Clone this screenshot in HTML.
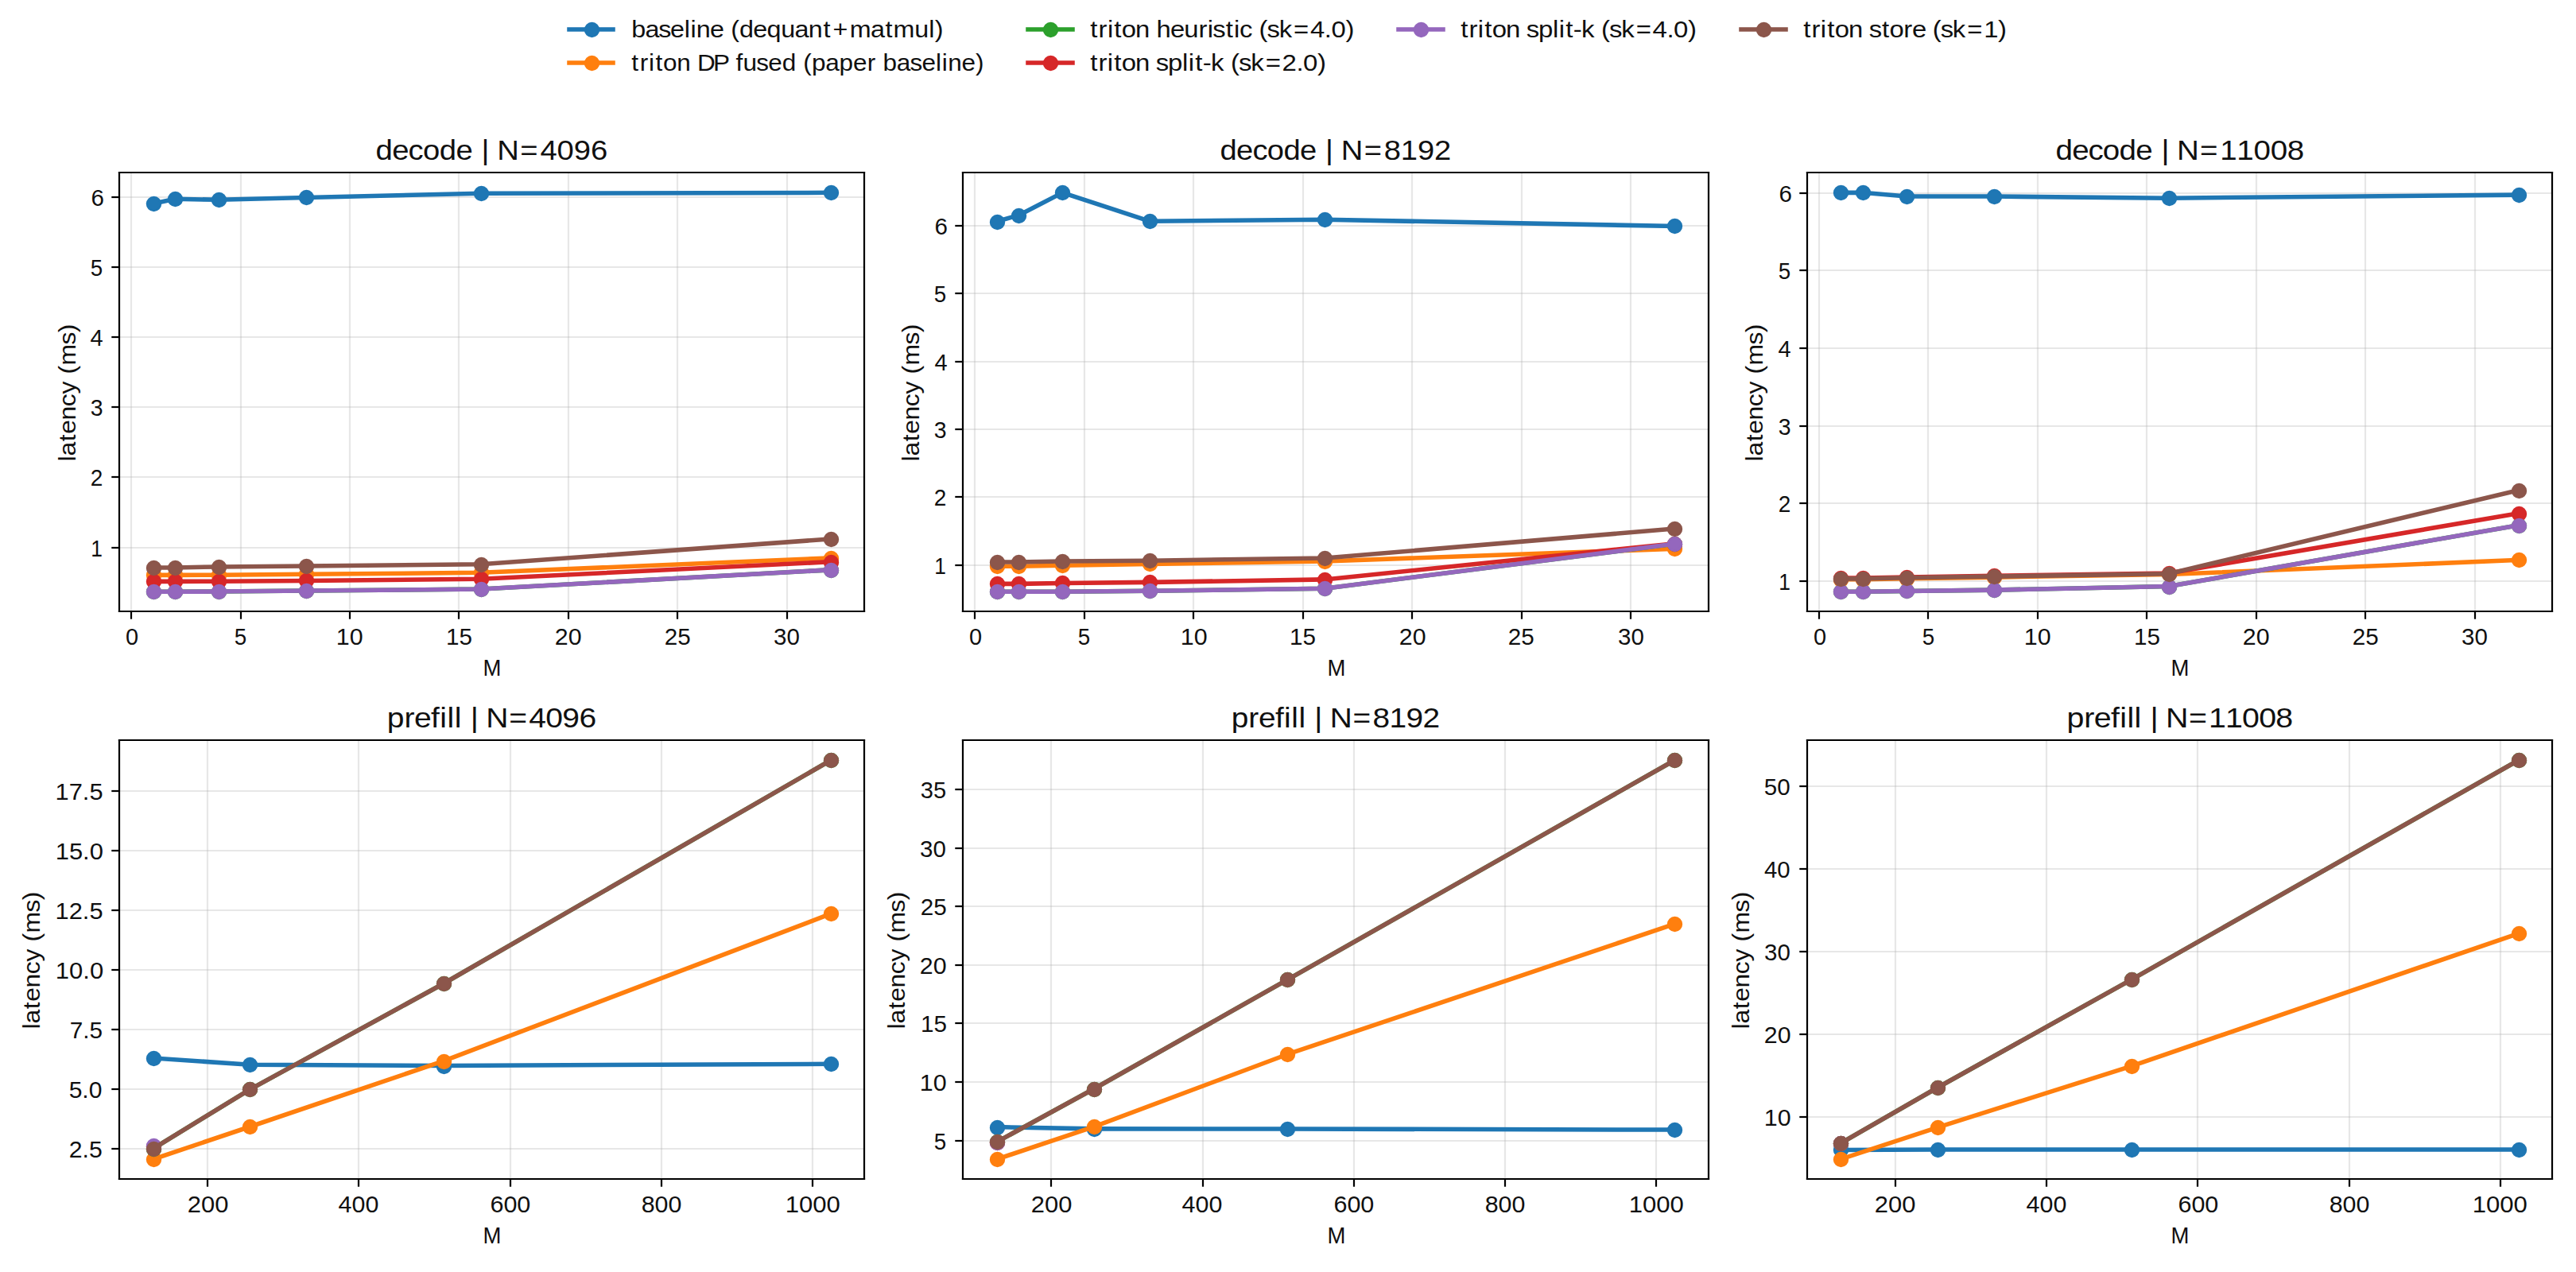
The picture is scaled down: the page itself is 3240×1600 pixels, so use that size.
<!DOCTYPE html>
<html><head><meta charset="utf-8"><title>latency plots</title>
<style>html,body{margin:0;padding:0;background:#fff;overflow:hidden}svg{display:block}text{font-family:"Liberation Sans",sans-serif;fill:#101010}</style>
</head><body>
<svg width="3240" height="1600" viewBox="0 0 3240 1600">
<defs><clipPath id="c0"><rect x="149.97" y="217.25" width="937.5" height="552.1"/></clipPath><clipPath id="c1"><rect x="1211.3" y="217.25" width="937.5" height="552.1"/></clipPath><clipPath id="c2"><rect x="2272.7" y="217.25" width="937.5" height="552.1"/></clipPath><clipPath id="c3"><rect x="149.97" y="931.3" width="937.5" height="551.9"/></clipPath><clipPath id="c4"><rect x="1211.3" y="931.3" width="937.5" height="551.9"/></clipPath><clipPath id="c5"><rect x="2272.7" y="931.3" width="937.5" height="551.9"/></clipPath></defs>
<path d="M0 1600L3240 1600L3240 0L0 0Z" fill="#ffffff"/>
<path d="M149.97 769.35L1087.47 769.35L1087.47 217.25L149.97 217.25Z" fill="#ffffff"/>
<path d="M165 769L165 217" fill="none" stroke="#b0b0b0" stroke-width="2.22" stroke-opacity="0.3" stroke-linecap="square" stroke-linejoin="round" clip-path="url(#c0)"/>
<g fill="#000000" stroke="#000000" stroke-width="2.22" stroke-linejoin="round"><path transform="translate(165 769)" d="M0 -0L0 9.72"/></g>
<text transform="matrix(1.0426 0 0 1.0628 157.91 811.00)" font-size="27.78" x="0.00">0</text>
<path d="M303 769L303 217" fill="none" stroke="#b0b0b0" stroke-width="2.22" stroke-opacity="0.3" stroke-linecap="square" stroke-linejoin="round" clip-path="url(#c0)"/>
<g fill="#000000" stroke="#000000" stroke-width="2.22" stroke-linejoin="round"><path transform="translate(303 769)" d="M0 -0L0 9.72"/></g>
<text transform="matrix(0.9989 0 0 1.0628 294.75 811.00)" font-size="27.78" x="0.00">5</text>
<path d="M440 769L440 217" fill="none" stroke="#b0b0b0" stroke-width="2.22" stroke-opacity="0.3" stroke-linecap="square" stroke-linejoin="round" clip-path="url(#c0)"/>
<g fill="#000000" stroke="#000000" stroke-width="2.22" stroke-linejoin="round"><path transform="translate(440 769)" d="M0 -0L0 9.72"/></g>
<text transform="matrix(1.0943 0 0 1.0628 422.74 811.00)" font-size="27.78" x="0.05 15.52">10</text>
<path d="M577 769L577 217" fill="none" stroke="#b0b0b0" stroke-width="2.22" stroke-opacity="0.3" stroke-linecap="square" stroke-linejoin="round" clip-path="url(#c0)"/>
<g fill="#000000" stroke="#000000" stroke-width="2.22" stroke-linejoin="round"><path transform="translate(577 769)" d="M0 -0L0 9.72"/></g>
<text transform="matrix(1.0660 0 0 1.0628 560.87 811.00)" font-size="27.78" x="0.05 15.52">15</text>
<path d="M715 769L715 217" fill="none" stroke="#b0b0b0" stroke-width="2.22" stroke-opacity="0.3" stroke-linecap="square" stroke-linejoin="round" clip-path="url(#c0)"/>
<g fill="#000000" stroke="#000000" stroke-width="2.22" stroke-linejoin="round"><path transform="translate(715 769)" d="M0 -0L0 9.72"/></g>
<text transform="matrix(1.0930 0 0 1.0628 697.76 811.00)" font-size="27.78" x="0.05 15.52">20</text>
<path d="M852 769L852 217" fill="none" stroke="#b0b0b0" stroke-width="2.22" stroke-opacity="0.3" stroke-linecap="square" stroke-linejoin="round" clip-path="url(#c0)"/>
<g fill="#000000" stroke="#000000" stroke-width="2.22" stroke-linejoin="round"><path transform="translate(852 769)" d="M0 -0L0 9.72"/></g>
<text transform="matrix(1.0670 0 0 1.0628 835.80 811.00)" font-size="27.78" x="0.05 15.52">25</text>
<path d="M990 769L990 217" fill="none" stroke="#b0b0b0" stroke-width="2.22" stroke-opacity="0.3" stroke-linecap="square" stroke-linejoin="round" clip-path="url(#c0)"/>
<g fill="#000000" stroke="#000000" stroke-width="2.22" stroke-linejoin="round"><path transform="translate(990 769)" d="M0 -0L0 9.72"/></g>
<text transform="matrix(1.0619 0 0 1.0628 972.95 811.00)" font-size="27.78" x="0.05 15.52">30</text>
<text transform="matrix(0.9892 0 0 1.0628 607.52 850.00)" font-size="27.78" x="0.00">M</text>
<path d="M150 689L1087 689" fill="none" stroke="#b0b0b0" stroke-width="2.22" stroke-opacity="0.3" stroke-linecap="square" stroke-linejoin="round" clip-path="url(#c0)"/>
<g fill="#000000" stroke="#000000" stroke-width="2.22" stroke-linejoin="round"><path transform="translate(150 689)" d="M-0 -0L-9.72 -0"/></g>
<text transform="matrix(0.9495 0 0 1.0628 114.26 700.00)" font-size="27.78" x="0.00">1</text>
<path d="M150 600L1087 600" fill="none" stroke="#b0b0b0" stroke-width="2.22" stroke-opacity="0.3" stroke-linecap="square" stroke-linejoin="round" clip-path="url(#c0)"/>
<g fill="#000000" stroke="#000000" stroke-width="2.22" stroke-linejoin="round"><path transform="translate(150 600)" d="M-0 -0L-9.72 -0"/></g>
<text transform="matrix(1.0098 0 0 1.0628 113.65 611.00)" font-size="27.78" x="0.00">2</text>
<path d="M150 512L1087 512" fill="none" stroke="#b0b0b0" stroke-width="2.22" stroke-opacity="0.3" stroke-linecap="square" stroke-linejoin="round" clip-path="url(#c0)"/>
<g fill="#000000" stroke="#000000" stroke-width="2.22" stroke-linejoin="round"><path transform="translate(150 512)" d="M-0 -0L-9.72 -0"/></g>
<text transform="matrix(1.0250 0 0 1.0628 113.86 523.00)" font-size="27.78" x="0.00">3</text>
<path d="M150 424L1087 424" fill="none" stroke="#b0b0b0" stroke-width="2.22" stroke-opacity="0.3" stroke-linecap="square" stroke-linejoin="round" clip-path="url(#c0)"/>
<g fill="#000000" stroke="#000000" stroke-width="2.22" stroke-linejoin="round"><path transform="translate(150 424)" d="M-0 -0L-9.72 -0"/></g>
<text transform="matrix(1.0444 0 0 1.0628 113.62 435.00)" font-size="27.78" x="-0.00">4</text>
<path d="M150 336L1087 336" fill="none" stroke="#b0b0b0" stroke-width="2.22" stroke-opacity="0.3" stroke-linecap="square" stroke-linejoin="round" clip-path="url(#c0)"/>
<g fill="#000000" stroke="#000000" stroke-width="2.22" stroke-linejoin="round"><path transform="translate(150 336)" d="M-0 -0L-9.72 -0"/></g>
<text transform="matrix(0.9989 0 0 1.0628 113.75 347.00)" font-size="27.78" x="0.00">5</text>
<path d="M150 248L1087 248" fill="none" stroke="#b0b0b0" stroke-width="2.22" stroke-opacity="0.3" stroke-linecap="square" stroke-linejoin="round" clip-path="url(#c0)"/>
<g fill="#000000" stroke="#000000" stroke-width="2.22" stroke-linejoin="round"><path transform="translate(150 248)" d="M-0 -0L-9.72 -0"/></g>
<text transform="matrix(1.0652 0 0 1.0628 114.42 259.00)" font-size="27.78" x="0.00">6</text>
<text transform="translate(95.00 580.86) rotate(-90) matrix(1.1460 0 0 1.0628 0 0)" font-size="27.78" x="0.25 6.34 22.39 30.69 45.76 60.81 74.56 88.65 96.39 105.99 128.63 141.89">latency (ms)</text>
<path d="M192.58 256.27L220.08 250.28L275.06 251.25L385.03 248.43L604.97 243.31L1044.86 242.35" fill="none" stroke="#1f77b4" stroke-width="5.56" stroke-linecap="square" stroke-linejoin="round" clip-path="url(#c0)"/>
<g fill="#1f77b4" stroke="#1f77b4" stroke-width="2.78" stroke-linejoin="round" clip-path="url(#c0)"><circle cx="193.5" cy="256.5" r="8.33"/><circle cx="220.5" cy="250.5" r="8.33"/><circle cx="275.5" cy="251.5" r="8.33"/><circle cx="385.5" cy="248.5" r="8.33"/><circle cx="605.5" cy="243.5" r="8.33"/><circle cx="1045.5" cy="242.5" r="8.33"/></g>
<path d="M192.58 723.37L220.08 723.37L275.06 723.19L385.03 722.31L604.97 720.28L1044.86 701.86" fill="none" stroke="#ff7f0e" stroke-width="5.56" stroke-linecap="square" stroke-linejoin="round" clip-path="url(#c0)"/>
<g fill="#ff7f0e" stroke="#ff7f0e" stroke-width="2.78" stroke-linejoin="round" clip-path="url(#c0)"><circle cx="193.5" cy="723.5" r="8.33"/><circle cx="220.5" cy="723.5" r="8.33"/><circle cx="275.5" cy="723.5" r="8.33"/><circle cx="385.5" cy="722.5" r="8.33"/><circle cx="605.5" cy="720.5" r="8.33"/><circle cx="1045.5" cy="702.5" r="8.33"/></g>
<path d="M192.58 744.25L220.08 744.25L275.06 744.08L385.03 743.02L604.97 741.08L1044.86 716.76" fill="none" stroke="#2ca02c" stroke-width="5.56" stroke-linecap="square" stroke-linejoin="round" clip-path="url(#c0)"/>
<g fill="#2ca02c" stroke="#2ca02c" stroke-width="2.78" stroke-linejoin="round" clip-path="url(#c0)"><circle cx="193.5" cy="744.5" r="8.33"/><circle cx="220.5" cy="744.5" r="8.33"/><circle cx="275.5" cy="744.5" r="8.33"/><circle cx="385.5" cy="743.5" r="8.33"/><circle cx="605.5" cy="741.5" r="8.33"/><circle cx="1045.5" cy="717.5" r="8.33"/></g>
<path d="M192.58 731.39L220.08 731.39L275.06 731.21L385.03 730.42L604.97 728.21L1044.86 706.71" fill="none" stroke="#d62728" stroke-width="5.56" stroke-linecap="square" stroke-linejoin="round" clip-path="url(#c0)"/>
<g fill="#d62728" stroke="#d62728" stroke-width="2.78" stroke-linejoin="round" clip-path="url(#c0)"><circle cx="193.5" cy="731.5" r="8.33"/><circle cx="220.5" cy="731.5" r="8.33"/><circle cx="275.5" cy="731.5" r="8.33"/><circle cx="385.5" cy="730.5" r="8.33"/><circle cx="605.5" cy="728.5" r="8.33"/><circle cx="1045.5" cy="707.5" r="8.33"/></g>
<path d="M192.58 744.25L220.08 744.25L275.06 744.08L385.03 743.02L604.97 741.08L1044.86 716.76" fill="none" stroke="#9467bd" stroke-width="5.56" stroke-linecap="square" stroke-linejoin="round" clip-path="url(#c0)"/>
<g fill="#9467bd" stroke="#9467bd" stroke-width="2.78" stroke-linejoin="round" clip-path="url(#c0)"><circle cx="193.5" cy="744.5" r="8.33"/><circle cx="220.5" cy="744.5" r="8.33"/><circle cx="275.5" cy="744.5" r="8.33"/><circle cx="385.5" cy="743.5" r="8.33"/><circle cx="605.5" cy="741.5" r="8.33"/><circle cx="1045.5" cy="717.5" r="8.33"/></g>
<path d="M192.58 713.94L220.08 713.94L275.06 712.97L385.03 712L604.97 709.8L1044.86 677.89" fill="none" stroke="#8c564b" stroke-width="5.56" stroke-linecap="square" stroke-linejoin="round" clip-path="url(#c0)"/>
<g fill="#8c564b" stroke="#8c564b" stroke-width="2.78" stroke-linejoin="round" clip-path="url(#c0)"><circle cx="193.5" cy="714.5" r="8.33"/><circle cx="220.5" cy="714.5" r="8.33"/><circle cx="275.5" cy="713.5" r="8.33"/><circle cx="385.5" cy="712.5" r="8.33"/><circle cx="605.5" cy="710.5" r="8.33"/><circle cx="1045.5" cy="678.5" r="8.33"/></g>
<path d="M150 769L150 217" fill="none" stroke="#000000" stroke-width="2.22" stroke-linecap="square"/>
<path d="M1087 769L1087 217" fill="none" stroke="#000000" stroke-width="2.22" stroke-linecap="square"/>
<path d="M150 769L1087 769" fill="none" stroke="#000000" stroke-width="2.22" stroke-linecap="square"/>
<path d="M150 217L1087 217" fill="none" stroke="#000000" stroke-width="2.22" stroke-linecap="square"/>
<text transform="matrix(1.1476 0 0 1.0611 472.44 201.00)" font-size="33.33" x="-0.03 18.07 35.86 51.81 69.90 88.01 106.16 115.92 125.14 133.16 158.46 180.34 198.79 217.24 235.69">decode | N=4096</text>
<path d="M1211.3 769.35L2148.8 769.35L2148.8 217.25L1211.3 217.25Z" fill="#ffffff"/>
<path d="M1226 769L1226 217" fill="none" stroke="#b0b0b0" stroke-width="2.22" stroke-opacity="0.3" stroke-linecap="square" stroke-linejoin="round" clip-path="url(#c1)"/>
<g fill="#000000" stroke="#000000" stroke-width="2.22" stroke-linejoin="round"><path transform="translate(1226 769)" d="M0 -0L0 9.72"/></g>
<text transform="matrix(1.0426 0 0 1.0628 1218.91 811.00)" font-size="27.78" x="0.00">0</text>
<path d="M1364 769L1364 217" fill="none" stroke="#b0b0b0" stroke-width="2.22" stroke-opacity="0.3" stroke-linecap="square" stroke-linejoin="round" clip-path="url(#c1)"/>
<g fill="#000000" stroke="#000000" stroke-width="2.22" stroke-linejoin="round"><path transform="translate(1364 769)" d="M0 -0L0 9.72"/></g>
<text transform="matrix(0.9989 0 0 1.0628 1355.75 811.00)" font-size="27.78" x="0.00">5</text>
<path d="M1501 769L1501 217" fill="none" stroke="#b0b0b0" stroke-width="2.22" stroke-opacity="0.3" stroke-linecap="square" stroke-linejoin="round" clip-path="url(#c1)"/>
<g fill="#000000" stroke="#000000" stroke-width="2.22" stroke-linejoin="round"><path transform="translate(1501 769)" d="M0 -0L0 9.72"/></g>
<text transform="matrix(1.0943 0 0 1.0628 1484.74 811.00)" font-size="27.78" x="0.05 15.52">10</text>
<path d="M1639 769L1639 217" fill="none" stroke="#b0b0b0" stroke-width="2.22" stroke-opacity="0.3" stroke-linecap="square" stroke-linejoin="round" clip-path="url(#c1)"/>
<g fill="#000000" stroke="#000000" stroke-width="2.22" stroke-linejoin="round"><path transform="translate(1639 769)" d="M0 -0L0 9.72"/></g>
<text transform="matrix(1.0660 0 0 1.0628 1621.87 811.00)" font-size="27.78" x="0.05 15.52">15</text>
<path d="M1776 769L1776 217" fill="none" stroke="#b0b0b0" stroke-width="2.22" stroke-opacity="0.3" stroke-linecap="square" stroke-linejoin="round" clip-path="url(#c1)"/>
<g fill="#000000" stroke="#000000" stroke-width="2.22" stroke-linejoin="round"><path transform="translate(1776 769)" d="M0 -0L0 9.72"/></g>
<text transform="matrix(1.0930 0 0 1.0628 1759.76 811.00)" font-size="27.78" x="0.05 15.52">20</text>
<path d="M1914 769L1914 217" fill="none" stroke="#b0b0b0" stroke-width="2.22" stroke-opacity="0.3" stroke-linecap="square" stroke-linejoin="round" clip-path="url(#c1)"/>
<g fill="#000000" stroke="#000000" stroke-width="2.22" stroke-linejoin="round"><path transform="translate(1914 769)" d="M0 -0L0 9.72"/></g>
<text transform="matrix(1.0670 0 0 1.0628 1896.80 811.00)" font-size="27.78" x="0.05 15.52">25</text>
<path d="M2051 769L2051 217" fill="none" stroke="#b0b0b0" stroke-width="2.22" stroke-opacity="0.3" stroke-linecap="square" stroke-linejoin="round" clip-path="url(#c1)"/>
<g fill="#000000" stroke="#000000" stroke-width="2.22" stroke-linejoin="round"><path transform="translate(2051 769)" d="M0 -0L0 9.72"/></g>
<text transform="matrix(1.0619 0 0 1.0628 2034.95 811.00)" font-size="27.78" x="0.05 15.52">30</text>
<text transform="matrix(0.9892 0 0 1.0628 1669.52 850.00)" font-size="27.78" x="0.00">M</text>
<path d="M1211 711L2149 711" fill="none" stroke="#b0b0b0" stroke-width="2.22" stroke-opacity="0.3" stroke-linecap="square" stroke-linejoin="round" clip-path="url(#c1)"/>
<g fill="#000000" stroke="#000000" stroke-width="2.22" stroke-linejoin="round"><path transform="translate(1211 711)" d="M-0 -0L-9.72 -0"/></g>
<text transform="matrix(0.9495 0 0 1.0628 1175.26 722.00)" font-size="27.78" x="0.00">1</text>
<path d="M1211 625L2149 625" fill="none" stroke="#b0b0b0" stroke-width="2.22" stroke-opacity="0.3" stroke-linecap="square" stroke-linejoin="round" clip-path="url(#c1)"/>
<g fill="#000000" stroke="#000000" stroke-width="2.22" stroke-linejoin="round"><path transform="translate(1211 625)" d="M-0 -0L-9.72 -0"/></g>
<text transform="matrix(1.0098 0 0 1.0628 1174.65 636.00)" font-size="27.78" x="-0.00">2</text>
<path d="M1211 540L2149 540" fill="none" stroke="#b0b0b0" stroke-width="2.22" stroke-opacity="0.3" stroke-linecap="square" stroke-linejoin="round" clip-path="url(#c1)"/>
<g fill="#000000" stroke="#000000" stroke-width="2.22" stroke-linejoin="round"><path transform="translate(1211 540)" d="M-0 -0L-9.72 -0"/></g>
<text transform="matrix(1.0250 0 0 1.0628 1174.86 551.00)" font-size="27.78" x="0.00">3</text>
<path d="M1211 455L2149 455" fill="none" stroke="#b0b0b0" stroke-width="2.22" stroke-opacity="0.3" stroke-linecap="square" stroke-linejoin="round" clip-path="url(#c1)"/>
<g fill="#000000" stroke="#000000" stroke-width="2.22" stroke-linejoin="round"><path transform="translate(1211 455)" d="M-0 -0L-9.72 -0"/></g>
<text transform="matrix(1.0444 0 0 1.0628 1175.62 466.00)" font-size="27.78" x="0.00">4</text>
<path d="M1211 369L2149 369" fill="none" stroke="#b0b0b0" stroke-width="2.22" stroke-opacity="0.3" stroke-linecap="square" stroke-linejoin="round" clip-path="url(#c1)"/>
<g fill="#000000" stroke="#000000" stroke-width="2.22" stroke-linejoin="round"><path transform="translate(1211 369)" d="M-0 -0L-9.72 -0"/></g>
<text transform="matrix(0.9989 0 0 1.0628 1174.75 380.00)" font-size="27.78" x="0.00">5</text>
<path d="M1211 284L2149 284" fill="none" stroke="#b0b0b0" stroke-width="2.22" stroke-opacity="0.3" stroke-linecap="square" stroke-linejoin="round" clip-path="url(#c1)"/>
<g fill="#000000" stroke="#000000" stroke-width="2.22" stroke-linejoin="round"><path transform="translate(1211 284)" d="M-0 -0L-9.72 -0"/></g>
<text transform="matrix(1.0652 0 0 1.0628 1175.42 295.00)" font-size="27.78" x="-0.00">6</text>
<text transform="translate(1156.00 580.86) rotate(-90) matrix(1.1460 0 0 1.0628 0 0)" font-size="27.78" x="0.25 6.34 22.39 30.69 45.76 60.81 74.56 88.65 96.39 105.99 128.63 141.89">latency (ms)</text>
<path d="M1253.91 278.53L1281.41 270.67L1336.39 242.35L1446.36 278.27L1666.3 276.22L2106.19 284.5" fill="none" stroke="#1f77b4" stroke-width="5.56" stroke-linecap="square" stroke-linejoin="round" clip-path="url(#c1)"/>
<g fill="#1f77b4" stroke="#1f77b4" stroke-width="2.78" stroke-linejoin="round" clip-path="url(#c1)"><circle cx="1254.5" cy="279.5" r="8.33"/><circle cx="1281.5" cy="271.5" r="8.33"/><circle cx="1336.5" cy="242.5" r="8.33"/><circle cx="1446.5" cy="278.5" r="8.33"/><circle cx="1666.5" cy="276.5" r="8.33"/><circle cx="2106.5" cy="284.5" r="8.33"/></g>
<path d="M1253.91 712.26L1281.41 712.26L1336.39 711.23L1446.36 709.35L1666.3 705.94L2106.19 690.24" fill="none" stroke="#ff7f0e" stroke-width="5.56" stroke-linecap="square" stroke-linejoin="round" clip-path="url(#c1)"/>
<g fill="#ff7f0e" stroke="#ff7f0e" stroke-width="2.78" stroke-linejoin="round" clip-path="url(#c1)"><circle cx="1254.5" cy="712.5" r="8.33"/><circle cx="1281.5" cy="712.5" r="8.33"/><circle cx="1336.5" cy="711.5" r="8.33"/><circle cx="1446.5" cy="709.5" r="8.33"/><circle cx="1666.5" cy="706.5" r="8.33"/><circle cx="2106.5" cy="690.5" r="8.33"/></g>
<path d="M1253.91 744.25L1281.41 744.25L1336.39 744.25L1446.36 743.32L1666.3 740.24L2106.19 684.18" fill="none" stroke="#2ca02c" stroke-width="5.56" stroke-linecap="square" stroke-linejoin="round" clip-path="url(#c1)"/>
<g fill="#2ca02c" stroke="#2ca02c" stroke-width="2.78" stroke-linejoin="round" clip-path="url(#c1)"><circle cx="1254.5" cy="744.5" r="8.33"/><circle cx="1281.5" cy="744.5" r="8.33"/><circle cx="1336.5" cy="744.5" r="8.33"/><circle cx="1446.5" cy="743.5" r="8.33"/><circle cx="1666.5" cy="740.5" r="8.33"/><circle cx="2106.5" cy="684.5" r="8.33"/></g>
<path d="M1253.91 734.36L1281.41 734.36L1336.39 733.42L1446.36 732.39L1666.3 728.9L2106.19 683.76" fill="none" stroke="#d62728" stroke-width="5.56" stroke-linecap="square" stroke-linejoin="round" clip-path="url(#c1)"/>
<g fill="#d62728" stroke="#d62728" stroke-width="2.78" stroke-linejoin="round" clip-path="url(#c1)"><circle cx="1254.5" cy="734.5" r="8.33"/><circle cx="1281.5" cy="734.5" r="8.33"/><circle cx="1336.5" cy="733.5" r="8.33"/><circle cx="1446.5" cy="732.5" r="8.33"/><circle cx="1666.5" cy="729.5" r="8.33"/><circle cx="2106.5" cy="684.5" r="8.33"/></g>
<path d="M1253.91 744.25L1281.41 744.25L1336.39 744.25L1446.36 743.32L1666.3 740.24L2106.19 684.18" fill="none" stroke="#9467bd" stroke-width="5.56" stroke-linecap="square" stroke-linejoin="round" clip-path="url(#c1)"/>
<g fill="#9467bd" stroke="#9467bd" stroke-width="2.78" stroke-linejoin="round" clip-path="url(#c1)"><circle cx="1254.5" cy="744.5" r="8.33"/><circle cx="1281.5" cy="744.5" r="8.33"/><circle cx="1336.5" cy="744.5" r="8.33"/><circle cx="1446.5" cy="743.5" r="8.33"/><circle cx="1666.5" cy="740.5" r="8.33"/><circle cx="2106.5" cy="684.5" r="8.33"/></g>
<path d="M1253.91 707.05L1281.41 707.05L1336.39 706.03L1446.36 705.17L1666.3 702.02L2106.19 665.07" fill="none" stroke="#8c564b" stroke-width="5.56" stroke-linecap="square" stroke-linejoin="round" clip-path="url(#c1)"/>
<g fill="#8c564b" stroke="#8c564b" stroke-width="2.78" stroke-linejoin="round" clip-path="url(#c1)"><circle cx="1254.5" cy="707.5" r="8.33"/><circle cx="1281.5" cy="707.5" r="8.33"/><circle cx="1336.5" cy="706.5" r="8.33"/><circle cx="1446.5" cy="705.5" r="8.33"/><circle cx="1666.5" cy="702.5" r="8.33"/><circle cx="2106.5" cy="665.5" r="8.33"/></g>
<path d="M1211 769L1211 217" fill="none" stroke="#000000" stroke-width="2.22" stroke-linecap="square"/>
<path d="M2149 769L2149 217" fill="none" stroke="#000000" stroke-width="2.22" stroke-linecap="square"/>
<path d="M1211 769L2149 769" fill="none" stroke="#000000" stroke-width="2.22" stroke-linecap="square"/>
<path d="M1211 217L2149 217" fill="none" stroke="#000000" stroke-width="2.22" stroke-linecap="square"/>
<text transform="matrix(1.1438 0 0 1.0611 1534.44 201.00)" font-size="33.33" x="-0.03 18.07 35.86 51.81 69.90 88.01 106.16 115.92 125.14 133.16 158.46 180.34 198.79 217.24 235.69">decode | N=8192</text>
<path d="M2272.7 769.35L3210.2 769.35L3210.2 217.25L2272.7 217.25Z" fill="#ffffff"/>
<path d="M2288 769L2288 217" fill="none" stroke="#b0b0b0" stroke-width="2.22" stroke-opacity="0.3" stroke-linecap="square" stroke-linejoin="round" clip-path="url(#c2)"/>
<g fill="#000000" stroke="#000000" stroke-width="2.22" stroke-linejoin="round"><path transform="translate(2288 769)" d="M0 -0L0 9.72"/></g>
<text transform="matrix(1.0426 0 0 1.0628 2280.91 811.00)" font-size="27.78" x="0.00">0</text>
<path d="M2425 769L2425 217" fill="none" stroke="#b0b0b0" stroke-width="2.22" stroke-opacity="0.3" stroke-linecap="square" stroke-linejoin="round" clip-path="url(#c2)"/>
<g fill="#000000" stroke="#000000" stroke-width="2.22" stroke-linejoin="round"><path transform="translate(2425 769)" d="M0 -0L0 9.72"/></g>
<text transform="matrix(0.9989 0 0 1.0628 2417.75 811.00)" font-size="27.78" x="0.00">5</text>
<path d="M2563 769L2563 217" fill="none" stroke="#b0b0b0" stroke-width="2.22" stroke-opacity="0.3" stroke-linecap="square" stroke-linejoin="round" clip-path="url(#c2)"/>
<g fill="#000000" stroke="#000000" stroke-width="2.22" stroke-linejoin="round"><path transform="translate(2563 769)" d="M0 -0L0 9.72"/></g>
<text transform="matrix(1.0943 0 0 1.0628 2545.74 811.00)" font-size="27.78" x="0.05 15.52">10</text>
<path d="M2700 769L2700 217" fill="none" stroke="#b0b0b0" stroke-width="2.22" stroke-opacity="0.3" stroke-linecap="square" stroke-linejoin="round" clip-path="url(#c2)"/>
<g fill="#000000" stroke="#000000" stroke-width="2.22" stroke-linejoin="round"><path transform="translate(2700 769)" d="M0 -0L0 9.72"/></g>
<text transform="matrix(1.0660 0 0 1.0628 2683.87 811.00)" font-size="27.78" x="0.05 15.52">15</text>
<path d="M2838 769L2838 217" fill="none" stroke="#b0b0b0" stroke-width="2.22" stroke-opacity="0.3" stroke-linecap="square" stroke-linejoin="round" clip-path="url(#c2)"/>
<g fill="#000000" stroke="#000000" stroke-width="2.22" stroke-linejoin="round"><path transform="translate(2838 769)" d="M0 -0L0 9.72"/></g>
<text transform="matrix(1.0930 0 0 1.0628 2820.76 811.00)" font-size="27.78" x="0.05 15.52">20</text>
<path d="M2975 769L2975 217" fill="none" stroke="#b0b0b0" stroke-width="2.22" stroke-opacity="0.3" stroke-linecap="square" stroke-linejoin="round" clip-path="url(#c2)"/>
<g fill="#000000" stroke="#000000" stroke-width="2.22" stroke-linejoin="round"><path transform="translate(2975 769)" d="M0 -0L0 9.72"/></g>
<text transform="matrix(1.0670 0 0 1.0628 2958.80 811.00)" font-size="27.78" x="0.05 15.52">25</text>
<path d="M3113 769L3113 217" fill="none" stroke="#b0b0b0" stroke-width="2.22" stroke-opacity="0.3" stroke-linecap="square" stroke-linejoin="round" clip-path="url(#c2)"/>
<g fill="#000000" stroke="#000000" stroke-width="2.22" stroke-linejoin="round"><path transform="translate(3113 769)" d="M0 -0L0 9.72"/></g>
<text transform="matrix(1.0619 0 0 1.0628 3095.95 811.00)" font-size="27.78" x="0.05 15.52">30</text>
<text transform="matrix(0.9892 0 0 1.0628 2730.52 850.00)" font-size="27.78" x="0.00">M</text>
<path d="M2273 731L3210 731" fill="none" stroke="#b0b0b0" stroke-width="2.22" stroke-opacity="0.3" stroke-linecap="square" stroke-linejoin="round" clip-path="url(#c2)"/>
<g fill="#000000" stroke="#000000" stroke-width="2.22" stroke-linejoin="round"><path transform="translate(2273 731)" d="M-0 -0L-9.72 -0"/></g>
<text transform="matrix(0.9495 0 0 1.0628 2237.26 742.00)" font-size="27.78" x="0.00">1</text>
<path d="M2273 633L3210 633" fill="none" stroke="#b0b0b0" stroke-width="2.22" stroke-opacity="0.3" stroke-linecap="square" stroke-linejoin="round" clip-path="url(#c2)"/>
<g fill="#000000" stroke="#000000" stroke-width="2.22" stroke-linejoin="round"><path transform="translate(2273 633)" d="M-0 -0L-9.72 -0"/></g>
<text transform="matrix(1.0098 0 0 1.0628 2236.65 644.00)" font-size="27.78" x="-0.00">2</text>
<path d="M2273 536L3210 536" fill="none" stroke="#b0b0b0" stroke-width="2.22" stroke-opacity="0.3" stroke-linecap="square" stroke-linejoin="round" clip-path="url(#c2)"/>
<g fill="#000000" stroke="#000000" stroke-width="2.22" stroke-linejoin="round"><path transform="translate(2273 536)" d="M-0 -0L-9.72 -0"/></g>
<text transform="matrix(1.0250 0 0 1.0628 2236.86 547.00)" font-size="27.78" x="0.00">3</text>
<path d="M2273 438L3210 438" fill="none" stroke="#b0b0b0" stroke-width="2.22" stroke-opacity="0.3" stroke-linecap="square" stroke-linejoin="round" clip-path="url(#c2)"/>
<g fill="#000000" stroke="#000000" stroke-width="2.22" stroke-linejoin="round"><path transform="translate(2273 438)" d="M-0 -0L-9.72 -0"/></g>
<text transform="matrix(1.0444 0 0 1.0628 2236.62 449.00)" font-size="27.78" x="0.00">4</text>
<path d="M2273 340L3210 340" fill="none" stroke="#b0b0b0" stroke-width="2.22" stroke-opacity="0.3" stroke-linecap="square" stroke-linejoin="round" clip-path="url(#c2)"/>
<g fill="#000000" stroke="#000000" stroke-width="2.22" stroke-linejoin="round"><path transform="translate(2273 340)" d="M-0 -0L-9.72 -0"/></g>
<text transform="matrix(0.9989 0 0 1.0628 2236.75 351.00)" font-size="27.78" x="0.00">5</text>
<path d="M2273 243L3210 243" fill="none" stroke="#b0b0b0" stroke-width="2.22" stroke-opacity="0.3" stroke-linecap="square" stroke-linejoin="round" clip-path="url(#c2)"/>
<g fill="#000000" stroke="#000000" stroke-width="2.22" stroke-linejoin="round"><path transform="translate(2273 243)" d="M-0 -0L-9.72 -0"/></g>
<text transform="matrix(1.0652 0 0 1.0628 2237.42 254.00)" font-size="27.78" x="0.00">6</text>
<text transform="translate(2217.00 580.86) rotate(-90) matrix(1.1460 0 0 1.0628 0 0)" font-size="27.78" x="0.25 6.34 22.39 30.69 45.76 60.81 74.56 88.65 96.39 105.99 128.63 141.89">latency (ms)</text>
<path d="M2315.31 242.35L2342.81 242.35L2397.79 247.03L2507.76 247.03L2727.7 249.18L3167.59 245.18" fill="none" stroke="#1f77b4" stroke-width="5.56" stroke-linecap="square" stroke-linejoin="round" clip-path="url(#c2)"/>
<g fill="#1f77b4" stroke="#1f77b4" stroke-width="2.78" stroke-linejoin="round" clip-path="url(#c2)"><circle cx="2315.5" cy="242.5" r="8.33"/><circle cx="2343.5" cy="242.5" r="8.33"/><circle cx="2398.5" cy="247.5" r="8.33"/><circle cx="2508.5" cy="247.5" r="8.33"/><circle cx="2728.5" cy="249.5" r="8.33"/><circle cx="3168.5" cy="245.5" r="8.33"/></g>
<path d="M2315.31 728.84L2342.81 728.84L2397.79 727.66L2507.76 726.1L2727.7 722.49L3167.59 704.44" fill="none" stroke="#ff7f0e" stroke-width="5.56" stroke-linecap="square" stroke-linejoin="round" clip-path="url(#c2)"/>
<g fill="#ff7f0e" stroke="#ff7f0e" stroke-width="2.78" stroke-linejoin="round" clip-path="url(#c2)"><circle cx="2315.5" cy="729.5" r="8.33"/><circle cx="2343.5" cy="729.5" r="8.33"/><circle cx="2398.5" cy="728.5" r="8.33"/><circle cx="2508.5" cy="726.5" r="8.33"/><circle cx="2728.5" cy="722.5" r="8.33"/><circle cx="3168.5" cy="704.5" r="8.33"/></g>
<path d="M2315.31 744.25L2342.81 744.25L2397.79 743.47L2507.76 742.11L2727.7 737.52L3167.59 660.62" fill="none" stroke="#2ca02c" stroke-width="5.56" stroke-linecap="square" stroke-linejoin="round" clip-path="url(#c2)"/>
<g fill="#2ca02c" stroke="#2ca02c" stroke-width="2.78" stroke-linejoin="round" clip-path="url(#c2)"><circle cx="2315.5" cy="744.5" r="8.33"/><circle cx="2343.5" cy="744.5" r="8.33"/><circle cx="2398.5" cy="743.5" r="8.33"/><circle cx="2508.5" cy="742.5" r="8.33"/><circle cx="2728.5" cy="738.5" r="8.33"/><circle cx="3168.5" cy="661.5" r="8.33"/></g>
<path d="M2315.31 727.08L2342.81 727.08L2397.79 725.91L2507.76 724.35L2727.7 721.03L3167.59 645.69" fill="none" stroke="#d62728" stroke-width="5.56" stroke-linecap="square" stroke-linejoin="round" clip-path="url(#c2)"/>
<g fill="#d62728" stroke="#d62728" stroke-width="2.78" stroke-linejoin="round" clip-path="url(#c2)"><circle cx="2315.5" cy="727.5" r="8.33"/><circle cx="2343.5" cy="727.5" r="8.33"/><circle cx="2398.5" cy="726.5" r="8.33"/><circle cx="2508.5" cy="724.5" r="8.33"/><circle cx="2728.5" cy="721.5" r="8.33"/><circle cx="3168.5" cy="646.5" r="8.33"/></g>
<path d="M2315.31 744.25L2342.81 744.25L2397.79 743.47L2507.76 742.11L2727.7 737.52L3167.59 660.62" fill="none" stroke="#9467bd" stroke-width="5.56" stroke-linecap="square" stroke-linejoin="round" clip-path="url(#c2)"/>
<g fill="#9467bd" stroke="#9467bd" stroke-width="2.78" stroke-linejoin="round" clip-path="url(#c2)"><circle cx="2315.5" cy="744.5" r="8.33"/><circle cx="2343.5" cy="744.5" r="8.33"/><circle cx="2398.5" cy="743.5" r="8.33"/><circle cx="2508.5" cy="742.5" r="8.33"/><circle cx="2728.5" cy="738.5" r="8.33"/><circle cx="3168.5" cy="661.5" r="8.33"/></g>
<path d="M2315.31 727.86L2342.81 727.86L2397.79 726.69L2507.76 725.13L2727.7 721.81L3167.59 616.61" fill="none" stroke="#8c564b" stroke-width="5.56" stroke-linecap="square" stroke-linejoin="round" clip-path="url(#c2)"/>
<g fill="#8c564b" stroke="#8c564b" stroke-width="2.78" stroke-linejoin="round" clip-path="url(#c2)"><circle cx="2315.5" cy="728.5" r="8.33"/><circle cx="2343.5" cy="728.5" r="8.33"/><circle cx="2398.5" cy="727.5" r="8.33"/><circle cx="2508.5" cy="725.5" r="8.33"/><circle cx="2728.5" cy="722.5" r="8.33"/><circle cx="3168.5" cy="617.5" r="8.33"/></g>
<path d="M2273 769L2273 217" fill="none" stroke="#000000" stroke-width="2.22" stroke-linecap="square"/>
<path d="M3210 769L3210 217" fill="none" stroke="#000000" stroke-width="2.22" stroke-linecap="square"/>
<path d="M2273 769L3210 769" fill="none" stroke="#000000" stroke-width="2.22" stroke-linecap="square"/>
<path d="M2273 217L3210 217" fill="none" stroke="#000000" stroke-width="2.22" stroke-linecap="square"/>
<text transform="matrix(1.1565 0 0 1.0611 2585.53 201.00)" font-size="33.33" x="-0.11 17.84 35.48 51.29 69.22 87.17 105.21 114.88 124.03 131.92 157.02 178.71 197.01 215.30 233.59 251.88">decode | N=11008</text>
<path d="M149.97 1483.2L1087.47 1483.2L1087.47 931.3L149.97 931.3Z" fill="#ffffff"/>
<path d="M261 1483L261 931" fill="none" stroke="#b0b0b0" stroke-width="2.22" stroke-opacity="0.3" stroke-linecap="square" stroke-linejoin="round" clip-path="url(#c3)"/>
<g fill="#000000" stroke="#000000" stroke-width="2.22" stroke-linejoin="round"><path transform="translate(261 1483)" d="M0 -0L0 9.72"/></g>
<text transform="matrix(1.1134 0 0 1.0628 235.72 1525.00)" font-size="27.78" x="0.03 15.47 30.91">200</text>
<path d="M451 1483L451 931" fill="none" stroke="#b0b0b0" stroke-width="2.22" stroke-opacity="0.3" stroke-linecap="square" stroke-linejoin="round" clip-path="url(#c3)"/>
<g fill="#000000" stroke="#000000" stroke-width="2.22" stroke-linejoin="round"><path transform="translate(451 1483)" d="M0 -0L0 9.72"/></g>
<text transform="matrix(1.0953 0 0 1.0628 425.57 1525.00)" font-size="27.78" x="0.03 15.47 30.91">400</text>
<path d="M642 1483L642 931" fill="none" stroke="#b0b0b0" stroke-width="2.22" stroke-opacity="0.3" stroke-linecap="square" stroke-linejoin="round" clip-path="url(#c3)"/>
<g fill="#000000" stroke="#000000" stroke-width="2.22" stroke-linejoin="round"><path transform="translate(642 1483)" d="M0 -0L0 9.72"/></g>
<text transform="matrix(1.1002 0 0 1.0628 616.38 1525.00)" font-size="27.78" x="0.03 15.47 30.91">600</text>
<path d="M832 1483L832 931" fill="none" stroke="#b0b0b0" stroke-width="2.22" stroke-opacity="0.3" stroke-linecap="square" stroke-linejoin="round" clip-path="url(#c3)"/>
<g fill="#000000" stroke="#000000" stroke-width="2.22" stroke-linejoin="round"><path transform="translate(832 1483)" d="M0 -0L0 9.72"/></g>
<text transform="matrix(1.0942 0 0 1.0628 806.61 1525.00)" font-size="27.78" x="0.03 15.47 30.91">800</text>
<path d="M1022 1483L1022 931" fill="none" stroke="#b0b0b0" stroke-width="2.22" stroke-opacity="0.3" stroke-linecap="square" stroke-linejoin="round" clip-path="url(#c3)"/>
<g fill="#000000" stroke="#000000" stroke-width="2.22" stroke-linejoin="round"><path transform="translate(1022 1483)" d="M0 -0L0 9.72"/></g>
<text transform="matrix(1.1198 0 0 1.0628 987.68 1525.00)" font-size="27.78" x="0.04 15.48 30.93 46.38">1000</text>
<text transform="matrix(0.9892 0 0 1.0628 607.52 1564.00)" font-size="27.78" x="0.00">M</text>
<path d="M150 1445L1087 1445" fill="none" stroke="#b0b0b0" stroke-width="2.22" stroke-opacity="0.3" stroke-linecap="square" stroke-linejoin="round" clip-path="url(#c3)"/>
<g fill="#000000" stroke="#000000" stroke-width="2.22" stroke-linejoin="round"><path transform="translate(150 1445)" d="M-0 -0L-9.72 -0"/></g>
<text transform="matrix(1.0883 0 0 1.0628 86.76 1456.00)" font-size="27.78" x="0.03 15.43 23.17">2.5</text>
<path d="M150 1370L1087 1370" fill="none" stroke="#b0b0b0" stroke-width="2.22" stroke-opacity="0.3" stroke-linecap="square" stroke-linejoin="round" clip-path="url(#c3)"/>
<g fill="#000000" stroke="#000000" stroke-width="2.22" stroke-linejoin="round"><path transform="translate(150 1370)" d="M-0 -0L-9.72 -0"/></g>
<text transform="matrix(1.0830 0 0 1.0628 86.61 1381.00)" font-size="27.78" x="0.03 15.43 23.17">5.0</text>
<path d="M150 1295L1087 1295" fill="none" stroke="#b0b0b0" stroke-width="2.22" stroke-opacity="0.3" stroke-linecap="square" stroke-linejoin="round" clip-path="url(#c3)"/>
<g fill="#000000" stroke="#000000" stroke-width="2.22" stroke-linejoin="round"><path transform="translate(150 1295)" d="M-0 -0L-9.72 -0"/></g>
<text transform="matrix(1.0706 0 0 1.0628 87.64 1306.00)" font-size="27.78" x="0.03 15.43 23.17">7.5</text>
<path d="M150 1220L1087 1220" fill="none" stroke="#b0b0b0" stroke-width="2.22" stroke-opacity="0.3" stroke-linecap="square" stroke-linejoin="round" clip-path="url(#c3)"/>
<g fill="#000000" stroke="#000000" stroke-width="2.22" stroke-linejoin="round"><path transform="translate(150 1220)" d="M-0 -0L-9.72 -0"/></g>
<text transform="matrix(1.1158 0 0 1.0628 69.70 1231.00)" font-size="27.78" x="0.05 15.52 30.94 38.72">10.0</text>
<path d="M150 1145L1087 1145" fill="none" stroke="#b0b0b0" stroke-width="2.22" stroke-opacity="0.3" stroke-linecap="square" stroke-linejoin="round" clip-path="url(#c3)"/>
<g fill="#000000" stroke="#000000" stroke-width="2.22" stroke-linejoin="round"><path transform="translate(150 1145)" d="M-0 -0L-9.72 -0"/></g>
<text transform="matrix(1.1092 0 0 1.0628 69.52 1156.00)" font-size="27.78" x="0.05 15.52 30.94 38.72">12.5</text>
<path d="M150 1070L1087 1070" fill="none" stroke="#b0b0b0" stroke-width="2.22" stroke-opacity="0.3" stroke-linecap="square" stroke-linejoin="round" clip-path="url(#c3)"/>
<g fill="#000000" stroke="#000000" stroke-width="2.22" stroke-linejoin="round"><path transform="translate(150 1070)" d="M-0 -0L-9.72 -0"/></g>
<text transform="matrix(1.1134 0 0 1.0628 69.62 1081.00)" font-size="27.78" x="0.05 15.52 30.94 38.72">15.0</text>
<path d="M150 995L1087 995" fill="none" stroke="#b0b0b0" stroke-width="2.22" stroke-opacity="0.3" stroke-linecap="square" stroke-linejoin="round" clip-path="url(#c3)"/>
<g fill="#000000" stroke="#000000" stroke-width="2.22" stroke-linejoin="round"><path transform="translate(150 995)" d="M-0 -0L-9.72 -0"/></g>
<text transform="matrix(1.1092 0 0 1.0628 69.52 1006.00)" font-size="27.78" x="0.05 15.52 30.94 38.72">17.5</text>
<text transform="translate(50.00 1294.86) rotate(-90) matrix(1.1460 0 0 1.0628 0 0)" font-size="27.78" x="0.25 6.34 22.39 30.69 45.76 60.81 74.56 88.65 96.39 105.99 128.63 141.89">latency (ms)</text>
<path d="M192.58 1330.92L314.34 1339.31L557.84 1340.51L1044.86 1338.3" fill="none" stroke="#1f77b4" stroke-width="5.56" stroke-linecap="square" stroke-linejoin="round" clip-path="url(#c3)"/>
<g fill="#1f77b4" stroke="#1f77b4" stroke-width="2.78" stroke-linejoin="round" clip-path="url(#c3)"><circle cx="193.5" cy="1331.5" r="8.33"/><circle cx="314.5" cy="1339.5" r="8.33"/><circle cx="558.5" cy="1341.5" r="8.33"/><circle cx="1045.5" cy="1338.5" r="8.33"/></g>
<path d="M192.58 1458.11L314.34 1417.25L557.84 1334.61L1044.86 1149.44" fill="none" stroke="#ff7f0e" stroke-width="5.56" stroke-linecap="square" stroke-linejoin="round" clip-path="url(#c3)"/>
<g fill="#ff7f0e" stroke="#ff7f0e" stroke-width="2.78" stroke-linejoin="round" clip-path="url(#c3)"><circle cx="193.5" cy="1458.5" r="8.33"/><circle cx="314.5" cy="1417.5" r="8.33"/><circle cx="558.5" cy="1335.5" r="8.33"/><circle cx="1045.5" cy="1149.5" r="8.33"/></g>
<path d="M192.58 1444.92L314.34 1370.37L557.84 1237.27L1044.86 956.39" fill="none" stroke="#2ca02c" stroke-width="5.56" stroke-linecap="square" stroke-linejoin="round" clip-path="url(#c3)"/>
<g fill="#2ca02c" stroke="#2ca02c" stroke-width="2.78" stroke-linejoin="round" clip-path="url(#c3)"><circle cx="193.5" cy="1445.5" r="8.33"/><circle cx="314.5" cy="1370.5" r="8.33"/><circle cx="558.5" cy="1237.5" r="8.33"/><circle cx="1045.5" cy="956.5" r="8.33"/></g>
<path d="M193 1442" fill="none" stroke="#d62728" stroke-width="5.56" stroke-linecap="square" stroke-linejoin="round" clip-path="url(#c3)"/>
<g fill="#d62728" stroke="#d62728" stroke-width="2.78" stroke-linejoin="round" clip-path="url(#c3)"><circle cx="193.5" cy="1442.5" r="8.33"/></g>
<path d="M193 1441" fill="none" stroke="#9467bd" stroke-width="5.56" stroke-linecap="square" stroke-linejoin="round" clip-path="url(#c3)"/>
<g fill="#9467bd" stroke="#9467bd" stroke-width="2.78" stroke-linejoin="round" clip-path="url(#c3)"><circle cx="193.5" cy="1441.5" r="8.33"/></g>
<path d="M192.58 1444.92L314.34 1370.37L557.84 1237.27L1044.86 956.39" fill="none" stroke="#8c564b" stroke-width="5.56" stroke-linecap="square" stroke-linejoin="round" clip-path="url(#c3)"/>
<g fill="#8c564b" stroke="#8c564b" stroke-width="2.78" stroke-linejoin="round" clip-path="url(#c3)"><circle cx="193.5" cy="1445.5" r="8.33"/><circle cx="314.5" cy="1370.5" r="8.33"/><circle cx="558.5" cy="1237.5" r="8.33"/><circle cx="1045.5" cy="956.5" r="8.33"/></g>
<path d="M150 1483L150 931" fill="none" stroke="#000000" stroke-width="2.22" stroke-linecap="square"/>
<path d="M1087 1483L1087 931" fill="none" stroke="#000000" stroke-width="2.22" stroke-linecap="square"/>
<path d="M150 1483L1087 1483" fill="none" stroke="#000000" stroke-width="2.22" stroke-linecap="square"/>
<path d="M150 931L1087 931" fill="none" stroke="#000000" stroke-width="2.22" stroke-linecap="square"/>
<text transform="matrix(1.1705 0 0 1.0611 487.05 915.00)" font-size="33.33" x="-0.25 18.24 29.07 47.03 56.63 64.49 72.36 79.85 89.38 98.38 106.04 130.79 152.17 170.19 188.20 206.21">prefill | N=4096</text>
<path d="M1211.3 1483.2L2148.8 1483.2L2148.8 931.3L1211.3 931.3Z" fill="#ffffff"/>
<path d="M1322 1483L1322 931" fill="none" stroke="#b0b0b0" stroke-width="2.22" stroke-opacity="0.3" stroke-linecap="square" stroke-linejoin="round" clip-path="url(#c4)"/>
<g fill="#000000" stroke="#000000" stroke-width="2.22" stroke-linejoin="round"><path transform="translate(1322 1483)" d="M0 -0L0 9.72"/></g>
<text transform="matrix(1.1134 0 0 1.0628 1296.72 1525.00)" font-size="27.78" x="0.03 15.47 30.91">200</text>
<path d="M1513 1483L1513 931" fill="none" stroke="#b0b0b0" stroke-width="2.22" stroke-opacity="0.3" stroke-linecap="square" stroke-linejoin="round" clip-path="url(#c4)"/>
<g fill="#000000" stroke="#000000" stroke-width="2.22" stroke-linejoin="round"><path transform="translate(1513 1483)" d="M0 -0L0 9.72"/></g>
<text transform="matrix(1.0953 0 0 1.0628 1486.57 1525.00)" font-size="27.78" x="0.03 15.47 30.91">400</text>
<path d="M1703 1483L1703 931" fill="none" stroke="#b0b0b0" stroke-width="2.22" stroke-opacity="0.3" stroke-linecap="square" stroke-linejoin="round" clip-path="url(#c4)"/>
<g fill="#000000" stroke="#000000" stroke-width="2.22" stroke-linejoin="round"><path transform="translate(1703 1483)" d="M0 -0L0 9.72"/></g>
<text transform="matrix(1.1002 0 0 1.0628 1677.38 1525.00)" font-size="27.78" x="0.03 15.47 30.91">600</text>
<path d="M1893 1483L1893 931" fill="none" stroke="#b0b0b0" stroke-width="2.22" stroke-opacity="0.3" stroke-linecap="square" stroke-linejoin="round" clip-path="url(#c4)"/>
<g fill="#000000" stroke="#000000" stroke-width="2.22" stroke-linejoin="round"><path transform="translate(1893 1483)" d="M0 -0L0 9.72"/></g>
<text transform="matrix(1.0942 0 0 1.0628 1867.61 1525.00)" font-size="27.78" x="0.03 15.47 30.91">800</text>
<path d="M2083 1483L2083 931" fill="none" stroke="#b0b0b0" stroke-width="2.22" stroke-opacity="0.3" stroke-linecap="square" stroke-linejoin="round" clip-path="url(#c4)"/>
<g fill="#000000" stroke="#000000" stroke-width="2.22" stroke-linejoin="round"><path transform="translate(2083 1483)" d="M0 -0L0 9.72"/></g>
<text transform="matrix(1.1198 0 0 1.0628 2048.68 1525.00)" font-size="27.78" x="0.04 15.48 30.93 46.38">1000</text>
<text transform="matrix(0.9892 0 0 1.0628 1669.52 1564.00)" font-size="27.78" x="0.00">M</text>
<path d="M1211 1435L2149 1435" fill="none" stroke="#b0b0b0" stroke-width="2.22" stroke-opacity="0.3" stroke-linecap="square" stroke-linejoin="round" clip-path="url(#c4)"/>
<g fill="#000000" stroke="#000000" stroke-width="2.22" stroke-linejoin="round"><path transform="translate(1211 1435)" d="M-0 -0L-9.72 -0"/></g>
<text transform="matrix(0.9989 0 0 1.0628 1174.75 1446.00)" font-size="27.78" x="0.00">5</text>
<path d="M1211 1361L2149 1361" fill="none" stroke="#b0b0b0" stroke-width="2.22" stroke-opacity="0.3" stroke-linecap="square" stroke-linejoin="round" clip-path="url(#c4)"/>
<g fill="#000000" stroke="#000000" stroke-width="2.22" stroke-linejoin="round"><path transform="translate(1211 1361)" d="M-0 -0L-9.72 -0"/></g>
<text transform="matrix(1.0943 0 0 1.0628 1156.74 1372.00)" font-size="27.78" x="0.05 15.52">10</text>
<path d="M1211 1287L2149 1287" fill="none" stroke="#b0b0b0" stroke-width="2.22" stroke-opacity="0.3" stroke-linecap="square" stroke-linejoin="round" clip-path="url(#c4)"/>
<g fill="#000000" stroke="#000000" stroke-width="2.22" stroke-linejoin="round"><path transform="translate(1211 1287)" d="M-0 -0L-9.72 -0"/></g>
<text transform="matrix(1.0660 0 0 1.0628 1157.87 1298.00)" font-size="27.78" x="0.05 15.52">15</text>
<path d="M1211 1214L2149 1214" fill="none" stroke="#b0b0b0" stroke-width="2.22" stroke-opacity="0.3" stroke-linecap="square" stroke-linejoin="round" clip-path="url(#c4)"/>
<g fill="#000000" stroke="#000000" stroke-width="2.22" stroke-linejoin="round"><path transform="translate(1211 1214)" d="M-0 -0L-9.72 -0"/></g>
<text transform="matrix(1.0930 0 0 1.0628 1156.76 1225.00)" font-size="27.78" x="0.05 15.52">20</text>
<path d="M1211 1140L2149 1140" fill="none" stroke="#b0b0b0" stroke-width="2.22" stroke-opacity="0.3" stroke-linecap="square" stroke-linejoin="round" clip-path="url(#c4)"/>
<g fill="#000000" stroke="#000000" stroke-width="2.22" stroke-linejoin="round"><path transform="translate(1211 1140)" d="M-0 -0L-9.72 -0"/></g>
<text transform="matrix(1.0670 0 0 1.0628 1157.80 1151.00)" font-size="27.78" x="0.05 15.52">25</text>
<path d="M1211 1067L2149 1067" fill="none" stroke="#b0b0b0" stroke-width="2.22" stroke-opacity="0.3" stroke-linecap="square" stroke-linejoin="round" clip-path="url(#c4)"/>
<g fill="#000000" stroke="#000000" stroke-width="2.22" stroke-linejoin="round"><path transform="translate(1211 1067)" d="M-0 -0L-9.72 -0"/></g>
<text transform="matrix(1.0619 0 0 1.0628 1156.95 1078.00)" font-size="27.78" x="0.05 15.52">30</text>
<path d="M1211 993L2149 993" fill="none" stroke="#b0b0b0" stroke-width="2.22" stroke-opacity="0.3" stroke-linecap="square" stroke-linejoin="round" clip-path="url(#c4)"/>
<g fill="#000000" stroke="#000000" stroke-width="2.22" stroke-linejoin="round"><path transform="translate(1211 993)" d="M-0 -0L-9.72 -0"/></g>
<text transform="matrix(1.0455 0 0 1.0628 1157.77 1004.00)" font-size="27.78" x="0.05 15.52">35</text>
<text transform="translate(1138.00 1294.86) rotate(-90) matrix(1.1460 0 0 1.0628 0 0)" font-size="27.78" x="0.25 6.34 22.39 30.69 45.76 60.81 74.56 88.65 96.39 105.99 128.63 141.89">latency (ms)</text>
<path d="M1253.91 1417.64L1375.67 1419.85L1619.17 1419.99L2106.19 1421.07" fill="none" stroke="#1f77b4" stroke-width="5.56" stroke-linecap="square" stroke-linejoin="round" clip-path="url(#c4)"/>
<g fill="#1f77b4" stroke="#1f77b4" stroke-width="2.78" stroke-linejoin="round" clip-path="url(#c4)"><circle cx="1254.5" cy="1418.5" r="8.33"/><circle cx="1376.5" cy="1420.5" r="8.33"/><circle cx="1619.5" cy="1420.5" r="8.33"/><circle cx="2106.5" cy="1421.5" r="8.33"/></g>
<path d="M1253.91 1458.11L1375.67 1417.35L1619.17 1326.24L2106.19 1162.29" fill="none" stroke="#ff7f0e" stroke-width="5.56" stroke-linecap="square" stroke-linejoin="round" clip-path="url(#c4)"/>
<g fill="#ff7f0e" stroke="#ff7f0e" stroke-width="2.78" stroke-linejoin="round" clip-path="url(#c4)"><circle cx="1254.5" cy="1458.5" r="8.33"/><circle cx="1376.5" cy="1417.5" r="8.33"/><circle cx="1619.5" cy="1326.5" r="8.33"/><circle cx="2106.5" cy="1162.5" r="8.33"/></g>
<path d="M1253.91 1436.33L1375.67 1369.81L1619.17 1232.34L2106.19 956.39" fill="none" stroke="#2ca02c" stroke-width="5.56" stroke-linecap="square" stroke-linejoin="round" clip-path="url(#c4)"/>
<g fill="#2ca02c" stroke="#2ca02c" stroke-width="2.78" stroke-linejoin="round" clip-path="url(#c4)"><circle cx="1254.5" cy="1436.5" r="8.33"/><circle cx="1376.5" cy="1370.5" r="8.33"/><circle cx="1619.5" cy="1232.5" r="8.33"/><circle cx="2106.5" cy="956.5" r="8.33"/></g>
<path d="M1254 1437" fill="none" stroke="#d62728" stroke-width="5.56" stroke-linecap="square" stroke-linejoin="round" clip-path="url(#c4)"/>
<g fill="#d62728" stroke="#d62728" stroke-width="2.78" stroke-linejoin="round" clip-path="url(#c4)"><circle cx="1254.5" cy="1437.5" r="8.33"/></g>
<path d="M1254 1437" fill="none" stroke="#9467bd" stroke-width="5.56" stroke-linecap="square" stroke-linejoin="round" clip-path="url(#c4)"/>
<g fill="#9467bd" stroke="#9467bd" stroke-width="2.78" stroke-linejoin="round" clip-path="url(#c4)"><circle cx="1254.5" cy="1437.5" r="8.33"/></g>
<path d="M1253.91 1436.33L1375.67 1369.81L1619.17 1232.34L2106.19 956.39" fill="none" stroke="#8c564b" stroke-width="5.56" stroke-linecap="square" stroke-linejoin="round" clip-path="url(#c4)"/>
<g fill="#8c564b" stroke="#8c564b" stroke-width="2.78" stroke-linejoin="round" clip-path="url(#c4)"><circle cx="1254.5" cy="1436.5" r="8.33"/><circle cx="1376.5" cy="1370.5" r="8.33"/><circle cx="1619.5" cy="1232.5" r="8.33"/><circle cx="2106.5" cy="956.5" r="8.33"/></g>
<path d="M1211 1483L1211 931" fill="none" stroke="#000000" stroke-width="2.22" stroke-linecap="square"/>
<path d="M2149 1483L2149 931" fill="none" stroke="#000000" stroke-width="2.22" stroke-linecap="square"/>
<path d="M1211 1483L2149 1483" fill="none" stroke="#000000" stroke-width="2.22" stroke-linecap="square"/>
<path d="M1211 931L2149 931" fill="none" stroke="#000000" stroke-width="2.22" stroke-linecap="square"/>
<text transform="matrix(1.1659 0 0 1.0611 1549.05 915.00)" font-size="33.33" x="-0.25 18.24 29.07 47.03 56.63 64.49 72.36 79.85 89.38 98.38 106.04 130.79 152.17 170.19 188.20 206.21">prefill | N=8192</text>
<path d="M2272.7 1483.2L3210.2 1483.2L3210.2 931.3L2272.7 931.3Z" fill="#ffffff"/>
<path d="M2384 1483L2384 931" fill="none" stroke="#b0b0b0" stroke-width="2.22" stroke-opacity="0.3" stroke-linecap="square" stroke-linejoin="round" clip-path="url(#c5)"/>
<g fill="#000000" stroke="#000000" stroke-width="2.22" stroke-linejoin="round"><path transform="translate(2384 1483)" d="M0 -0L0 9.72"/></g>
<text transform="matrix(1.1134 0 0 1.0628 2357.72 1525.00)" font-size="27.78" x="0.03 15.47 30.91">200</text>
<path d="M2574 1483L2574 931" fill="none" stroke="#b0b0b0" stroke-width="2.22" stroke-opacity="0.3" stroke-linecap="square" stroke-linejoin="round" clip-path="url(#c5)"/>
<g fill="#000000" stroke="#000000" stroke-width="2.22" stroke-linejoin="round"><path transform="translate(2574 1483)" d="M0 -0L0 9.72"/></g>
<text transform="matrix(1.0953 0 0 1.0628 2548.57 1525.00)" font-size="27.78" x="0.03 15.47 30.91">400</text>
<path d="M2764 1483L2764 931" fill="none" stroke="#b0b0b0" stroke-width="2.22" stroke-opacity="0.3" stroke-linecap="square" stroke-linejoin="round" clip-path="url(#c5)"/>
<g fill="#000000" stroke="#000000" stroke-width="2.22" stroke-linejoin="round"><path transform="translate(2764 1483)" d="M0 -0L0 9.72"/></g>
<text transform="matrix(1.1002 0 0 1.0628 2739.38 1525.00)" font-size="27.78" x="0.03 15.47 30.91">600</text>
<path d="M2955 1483L2955 931" fill="none" stroke="#b0b0b0" stroke-width="2.22" stroke-opacity="0.3" stroke-linecap="square" stroke-linejoin="round" clip-path="url(#c5)"/>
<g fill="#000000" stroke="#000000" stroke-width="2.22" stroke-linejoin="round"><path transform="translate(2955 1483)" d="M0 -0L0 9.72"/></g>
<text transform="matrix(1.0942 0 0 1.0628 2929.61 1525.00)" font-size="27.78" x="0.03 15.47 30.91">800</text>
<path d="M3145 1483L3145 931" fill="none" stroke="#b0b0b0" stroke-width="2.22" stroke-opacity="0.3" stroke-linecap="square" stroke-linejoin="round" clip-path="url(#c5)"/>
<g fill="#000000" stroke="#000000" stroke-width="2.22" stroke-linejoin="round"><path transform="translate(3145 1483)" d="M0 -0L0 9.72"/></g>
<text transform="matrix(1.1198 0 0 1.0628 3109.68 1525.00)" font-size="27.78" x="0.04 15.48 30.93 46.38">1000</text>
<text transform="matrix(0.9892 0 0 1.0628 2730.52 1564.00)" font-size="27.78" x="0.00">M</text>
<path d="M2273 1405L3210 1405" fill="none" stroke="#b0b0b0" stroke-width="2.22" stroke-opacity="0.3" stroke-linecap="square" stroke-linejoin="round" clip-path="url(#c5)"/>
<g fill="#000000" stroke="#000000" stroke-width="2.22" stroke-linejoin="round"><path transform="translate(2273 1405)" d="M-0 -0L-9.72 -0"/></g>
<text transform="matrix(1.0943 0 0 1.0628 2218.74 1416.00)" font-size="27.78" x="0.05 15.52">10</text>
<path d="M2273 1301L3210 1301" fill="none" stroke="#b0b0b0" stroke-width="2.22" stroke-opacity="0.3" stroke-linecap="square" stroke-linejoin="round" clip-path="url(#c5)"/>
<g fill="#000000" stroke="#000000" stroke-width="2.22" stroke-linejoin="round"><path transform="translate(2273 1301)" d="M-0 -0L-9.72 -0"/></g>
<text transform="matrix(1.0930 0 0 1.0628 2218.76 1312.00)" font-size="27.78" x="0.05 15.52">20</text>
<path d="M2273 1197L3210 1197" fill="none" stroke="#b0b0b0" stroke-width="2.22" stroke-opacity="0.3" stroke-linecap="square" stroke-linejoin="round" clip-path="url(#c5)"/>
<g fill="#000000" stroke="#000000" stroke-width="2.22" stroke-linejoin="round"><path transform="translate(2273 1197)" d="M-0 -0L-9.72 -0"/></g>
<text transform="matrix(1.0619 0 0 1.0628 2218.95 1208.00)" font-size="27.78" x="0.05 15.52">30</text>
<path d="M2273 1093L3210 1093" fill="none" stroke="#b0b0b0" stroke-width="2.22" stroke-opacity="0.3" stroke-linecap="square" stroke-linejoin="round" clip-path="url(#c5)"/>
<g fill="#000000" stroke="#000000" stroke-width="2.22" stroke-linejoin="round"><path transform="translate(2273 1093)" d="M-0 -0L-9.72 -0"/></g>
<text transform="matrix(1.0570 0 0 1.0628 2218.89 1104.00)" font-size="27.78" x="0.05 15.52">40</text>
<path d="M2273 989L3210 989" fill="none" stroke="#b0b0b0" stroke-width="2.22" stroke-opacity="0.3" stroke-linecap="square" stroke-linejoin="round" clip-path="url(#c5)"/>
<g fill="#000000" stroke="#000000" stroke-width="2.22" stroke-linejoin="round"><path transform="translate(2273 989)" d="M-0 -0L-9.72 -0"/></g>
<text transform="matrix(1.0641 0 0 1.0628 2218.65 1000.00)" font-size="27.78" x="0.05 15.52">50</text>
<text transform="translate(2200.00 1294.86) rotate(-90) matrix(1.1460 0 0 1.0628 0 0)" font-size="27.78" x="0.25 6.34 22.39 30.69 45.76 60.81 74.56 88.65 96.39 105.99 128.63 141.89">latency (ms)</text>
<path d="M2315.31 1446.48L2437.07 1446.07L2680.57 1446.07L3167.59 1445.96" fill="none" stroke="#1f77b4" stroke-width="5.56" stroke-linecap="square" stroke-linejoin="round" clip-path="url(#c5)"/>
<g fill="#1f77b4" stroke="#1f77b4" stroke-width="2.78" stroke-linejoin="round" clip-path="url(#c5)"><circle cx="2315.5" cy="1446.5" r="8.33"/><circle cx="2437.5" cy="1446.5" r="8.33"/><circle cx="2681.5" cy="1446.5" r="8.33"/><circle cx="3168.5" cy="1446.5" r="8.33"/></g>
<path d="M2315.31 1458.11L2437.07 1418.13L2680.57 1341.07L3167.59 1174.28" fill="none" stroke="#ff7f0e" stroke-width="5.56" stroke-linecap="square" stroke-linejoin="round" clip-path="url(#c5)"/>
<g fill="#ff7f0e" stroke="#ff7f0e" stroke-width="2.78" stroke-linejoin="round" clip-path="url(#c5)"><circle cx="2315.5" cy="1458.5" r="8.33"/><circle cx="2437.5" cy="1418.5" r="8.33"/><circle cx="2681.5" cy="1341.5" r="8.33"/><circle cx="3168.5" cy="1174.5" r="8.33"/></g>
<path d="M2315.31 1437.86L2437.07 1367.97L2680.57 1232.33L3167.59 956.39" fill="none" stroke="#2ca02c" stroke-width="5.56" stroke-linecap="square" stroke-linejoin="round" clip-path="url(#c5)"/>
<g fill="#2ca02c" stroke="#2ca02c" stroke-width="2.78" stroke-linejoin="round" clip-path="url(#c5)"><circle cx="2315.5" cy="1438.5" r="8.33"/><circle cx="2437.5" cy="1368.5" r="8.33"/><circle cx="2681.5" cy="1232.5" r="8.33"/><circle cx="3168.5" cy="956.5" r="8.33"/></g>
<path d="M2315 1438" fill="none" stroke="#d62728" stroke-width="5.56" stroke-linecap="square" stroke-linejoin="round" clip-path="url(#c5)"/>
<g fill="#d62728" stroke="#d62728" stroke-width="2.78" stroke-linejoin="round" clip-path="url(#c5)"><circle cx="2315.5" cy="1438.5" r="8.33"/></g>
<path d="M2315 1438" fill="none" stroke="#9467bd" stroke-width="5.56" stroke-linecap="square" stroke-linejoin="round" clip-path="url(#c5)"/>
<g fill="#9467bd" stroke="#9467bd" stroke-width="2.78" stroke-linejoin="round" clip-path="url(#c5)"><circle cx="2315.5" cy="1438.5" r="8.33"/></g>
<path d="M2315.31 1437.86L2437.07 1367.97L2680.57 1232.33L3167.59 956.39" fill="none" stroke="#8c564b" stroke-width="5.56" stroke-linecap="square" stroke-linejoin="round" clip-path="url(#c5)"/>
<g fill="#8c564b" stroke="#8c564b" stroke-width="2.78" stroke-linejoin="round" clip-path="url(#c5)"><circle cx="2315.5" cy="1438.5" r="8.33"/><circle cx="2437.5" cy="1368.5" r="8.33"/><circle cx="2681.5" cy="1232.5" r="8.33"/><circle cx="3168.5" cy="956.5" r="8.33"/></g>
<path d="M2273 1483L2273 931" fill="none" stroke="#000000" stroke-width="2.22" stroke-linecap="square"/>
<path d="M3210 1483L3210 931" fill="none" stroke="#000000" stroke-width="2.22" stroke-linecap="square"/>
<path d="M2273 1483L3210 1483" fill="none" stroke="#000000" stroke-width="2.22" stroke-linecap="square"/>
<path d="M2273 931L3210 931" fill="none" stroke="#000000" stroke-width="2.22" stroke-linecap="square"/>
<text transform="matrix(1.1796 0 0 1.0611 2599.94 915.00)" font-size="33.33" x="-0.32 18.05 28.77 46.62 56.15 63.96 71.76 79.18 88.65 97.57 105.11 129.69 150.90 168.77 186.65 204.52 222.39">prefill | N=11008</text>
<path d="M716 37L744 37L771 37" fill="none" stroke="#1f77b4" stroke-width="5.56" stroke-linecap="square" stroke-linejoin="round"/>
<g fill="#1f77b4" stroke="#1f77b4" stroke-width="2.78" stroke-linejoin="round"><circle cx="744.5" cy="37.5" r="8.33"/></g>
<text transform="matrix(1.1618 0 0 1.0628 794.44 47.00)" font-size="27.78" x="-0.14 14.69 29.03 41.83 57.07 63.69 69.97 84.88 99.84 107.48 116.65 131.58 146.47 161.61 176.42 191.34 207.44 217.86 236.03 258.73 274.63 283.23 306.24 321.71 328.12">baseline (dequant+matmul)</text>
<path d="M716 79L744 79L771 79" fill="none" stroke="#ff7f0e" stroke-width="5.56" stroke-linecap="square" stroke-linejoin="round"/>
<g fill="#ff7f0e" stroke="#ff7f0e" stroke-width="2.78" stroke-linejoin="round"><circle cx="744.5" cy="79.5" r="8.33"/></g>
<text transform="matrix(1.1348 0 0 1.0628 793.27 89.00)" font-size="27.78" x="0.95 10.02 19.96 27.42 35.86 51.10 66.59 73.73 91.35 107.99 116.43 124.42 139.32 152.47 167.75 183.27 191.13 200.63 215.85 231.17 246.49 262.14 271.82 279.62 294.85 309.55 322.70 338.22 345.02 351.59 366.89 382.22">triton DP fused (paper baseline)</text>
<path d="M1293 37L1321 37L1349 37" fill="none" stroke="#2ca02c" stroke-width="5.56" stroke-linecap="square" stroke-linejoin="round"/>
<g fill="#2ca02c" stroke="#2ca02c" stroke-width="2.78" stroke-linejoin="round"><circle cx="1321.5" cy="37.5" r="8.33"/></g>
<text transform="matrix(1.1819 0 0 1.0628 1370.38 46.50)" font-size="27.78" x="0.77 9.44 19.06 26.20 34.16 48.80 63.84 71.19 85.89 100.58 115.95 125.57 131.13 144.97 153.58 159.49 172.77 180.30 188.74 201.63 217.20 234.94 249.99 257.38 272.48">triton heuristic (sk=4.0)</text>
<path d="M1293 79L1321 79L1349 79" fill="none" stroke="#d62728" stroke-width="5.56" stroke-linecap="square" stroke-linejoin="round"/>
<g fill="#d62728" stroke="#d62728" stroke-width="2.78" stroke-linejoin="round"><circle cx="1321.5" cy="79.5" r="8.33"/></g>
<text transform="matrix(1.1864 0 0 1.0628 1370.37 89.00)" font-size="27.78" x="0.75 9.38 18.96 26.07 33.98 48.56 63.55 70.29 83.06 98.35 104.86 111.97 119.97 128.64 142.29 149.77 158.17 171.00 186.50 204.17 219.17 226.51 241.56">triton split-k (sk=2.0)</text>
<path d="M1759 37L1787 37L1815 37" fill="none" stroke="#9467bd" stroke-width="5.56" stroke-linecap="square" stroke-linejoin="round"/>
<g fill="#9467bd" stroke="#9467bd" stroke-width="2.78" stroke-linejoin="round"><circle cx="1787.5" cy="37.5" r="8.33"/></g>
<text transform="matrix(1.1864 0 0 1.0628 1836.37 47.00)" font-size="27.78" x="0.75 9.38 18.96 26.07 33.98 48.56 63.55 70.29 83.06 98.35 104.86 111.97 119.97 128.64 142.29 149.77 158.17 171.00 186.50 204.17 219.17 226.51 241.56">triton split-k (sk=4.0)</text>
<path d="M2190 37L2218 37L2246 37" fill="none" stroke="#8c564b" stroke-width="5.56" stroke-linecap="square" stroke-linejoin="round"/>
<g fill="#8c564b" stroke="#8c564b" stroke-width="2.78" stroke-linejoin="round"><circle cx="2218.5" cy="37.5" r="8.33"/></g>
<text transform="matrix(1.1830 0 0 1.0628 2267.38 46.50)" font-size="27.78" x="0.76 9.42 19.01 26.14 34.07 48.69 63.71 70.48 84.29 92.22 107.31 116.28 130.56 138.06 146.48 159.34 174.88 192.59 207.66">triton store (sk=1)</text>
</svg>
</body></html>
